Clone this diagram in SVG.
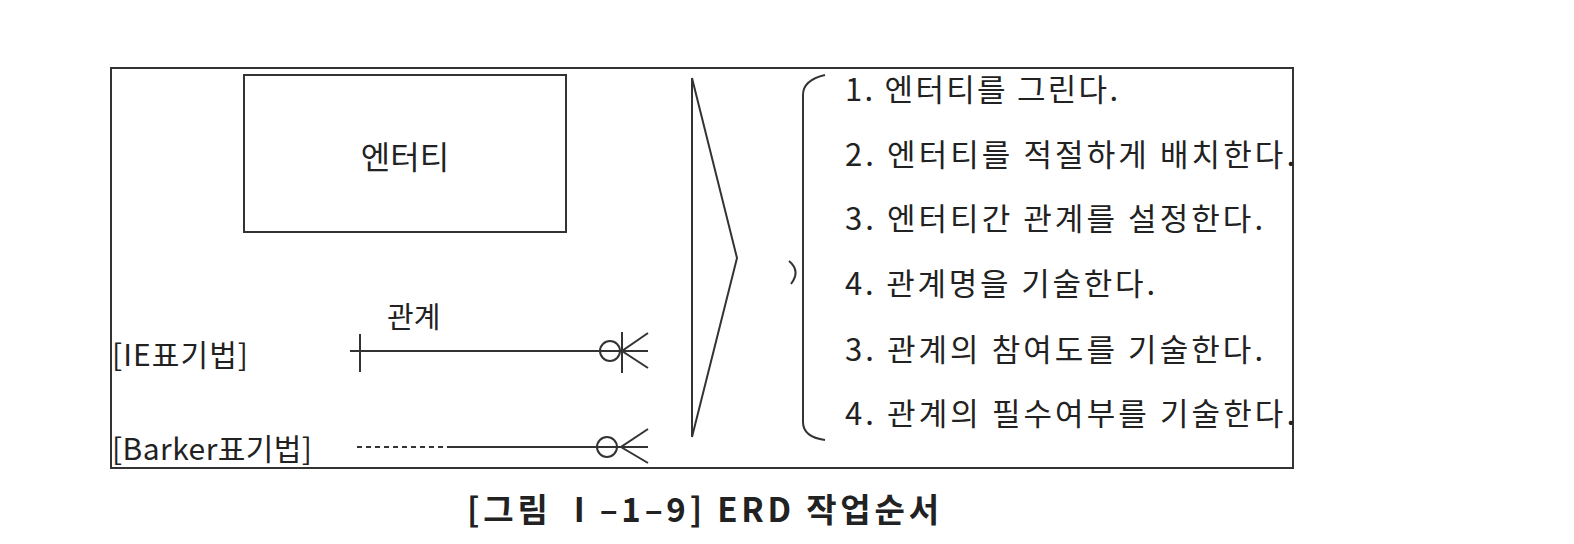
<svg xmlns="http://www.w3.org/2000/svg" width="1574" height="544" viewBox="0 0 1574 544">
<style>
.t{font-family:"Noto Sans CJK KR","Liberation Sans",sans-serif;fill:#222;}
.s{fill:none;stroke:#333;stroke-width:2;}
.c{font-family:"Noto Sans CJK KR","Liberation Sans",sans-serif;fill:#222;font-weight:bold;}
</style>
<rect width="1574" height="544" fill="#fff"/>
<g id="frame"><rect x="111" y="68" width="1182" height="400" class="s"/></g>
<g id="entity">
<rect x="244" y="75" width="322" height="157" class="s"/>
<text class="t" x="405" y="169" font-size="32" text-anchor="middle">엔터티</text>
</g>
<g id="labels">
<text class="t" x="387" y="328" font-size="29">관계</text>
<text class="t" x="112" y="366" font-size="30" textLength="136">[IE표기법]</text>
<text class="t" x="112" y="460" font-size="30" textLength="200">[Barker표기법]</text>
</g>
<g id="connectors">
<g id="ie">
<line x1="350" y1="351" x2="648" y2="351" class="s"/>
<line x1="360" y1="334" x2="360" y2="372" class="s"/>
<circle cx="610" cy="351" r="10" class="s"/>
<line x1="622" y1="332" x2="622" y2="373" class="s"/>
<path d="M648,333 L622,351 L648,368" class="s"/>
</g>
<g id="barker">
<line x1="357" y1="447" x2="452" y2="447" class="s" stroke-dasharray="5,4"/>
<line x1="452" y1="447" x2="648" y2="447" class="s"/>
<circle cx="607" cy="447" r="10" class="s"/>
<path d="M648,429 L621,447 L648,463" class="s"/>
</g>
</g>
<g id="chevron">
<path d="M692,78 L692,437 M692,78 L737,258 L692,437" class="s"/>
</g>
<g id="brace">
<path d="M825,75 Q803,80 803,95 L803,422 Q803,437 825,440" class="s"/>
<path d="M789,261 Q801,271 791,284" class="s"/>
</g>
<g id="steps">
<text class="t" x="845" y="101" font-size="31" textLength="273">1. 엔터티를 그린다.</text>
<text class="t" x="845" y="166" font-size="31" textLength="450">2. 엔터티를 적절하게 배치한다.</text>
<text class="t" x="845" y="230" font-size="31" textLength="418">3. 엔터티간 관계를 설정한다.</text>
<text class="t" x="845" y="295" font-size="31" textLength="310">4. 관계명을 기술한다.</text>
<text class="t" x="845" y="361" font-size="31" textLength="418">3. 관계의 참여도를 기술한다.</text>
<text class="t" x="845" y="425" font-size="31" textLength="450">4. 관계의 필수여부를 기술한다.</text>
</g>
<g id="caption">
<text class="c" x="467" y="522" font-size="33" textLength="472">[그림  Ⅰ–1–9] ERD 작업순서</text>
</g>
</svg>
